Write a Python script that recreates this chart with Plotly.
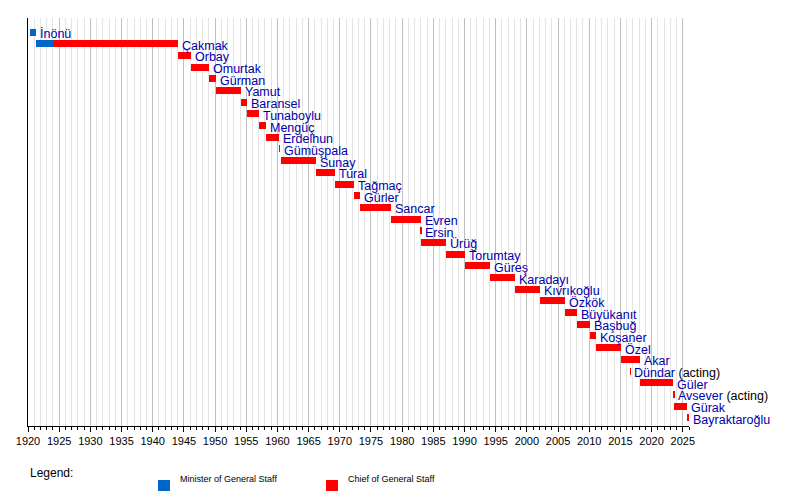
import plotly.graph_objects as go

# Chiefs of the General Staff of Turkey - timeline data
names = ["İnönü", "Çakmak", "Orbay", "Omurtak", "Gürman", "Yamut", "Baransel",
         "Tunaboylu", "Mengüç", "Erdelhun", "Gümüşpala", "Sunay", "Tural",
         "Tağmaç", "Gürler", "Sancar", "Evren", "Ersin", "Ürüğ", "Torumtay",
         "Güreş", "Karadayı", "Kıvrıkoğlu", "Özkök", "Büyükanıt", "Başbuğ",
         "Koşaner", "Özel", "Akar", "Dündar", "Güler", "Avsever", "Gürak",
         "Bayraktaroğlu"]
acting = ["Dündar", "Avsever"]

# minister of general staff terms
minister_names = ["İnönü", "Çakmak"]
minister_start = [1920.3, 1921.3]
minister_end = [1921.3, 1924.2]

# chief of general staff terms (start, end) per name; İnönü has none
chief_start = [None, 1924.2, 1944.0, 1946.1, 1949.1, 1950.1, 1954.1, 1955.1,
               1957.1, 1958.1, 1960.3, 1960.6, 1966.2, 1969.2, 1972.2, 1973.2,
               1978.2, 1983.0, 1983.1, 1987.1, 1990.1, 1994.1, 1998.1, 2002.1,
               2006.1, 2008.1, 2010.1, 2011.1, 2015.1, 2016.54, 2018.2, 2023.5,
               2023.6, 2025.6]
chief_end = [None, 1944.0, 1946.1, 1949.1, 1950.1, 1954.1, 1955.1, 1957.1,
             1958.1, 1960.3, 1960.35, 1966.2, 1969.2, 1972.2, 1973.2, 1978.2,
             1983.0, 1983.1, 1987.1, 1990.1, 1994.1, 1998.1, 2002.1, 2006.1,
             2008.1, 2010.1, 2011.1, 2015.1, 2018.2, 2016.6, 2023.5, 2023.6,
             2025.6, 2026.0]

blue = "#0066cc"
red = "#ff0000"
rows = {n: i for i, n in enumerate(names)}

W, H = 800, 498
ml, mr, mt, mb = 20, 119, 10, 80
pw, ph = W - ml - mr, H - mt - mb

def px2paper(x, y):
    return (x - ml) / pw, (H - mb - y) / ph

fig = go.Figure()

# Minister of General Staff bars
fig.add_trace(go.Bar(
    y=[rows[n] for n in minister_names],
    x=[e - s for s, e in zip(minister_start, minister_end)],
    base=minister_start,
    orientation="h", width=0.6, marker=dict(color=blue, line_width=0),
    showlegend=False, hoverinfo="skip"
))

# Chief of General Staff bars
cy, cx, cb = [], [], []
for i, (s, e) in enumerate(zip(chief_start, chief_end)):
    if s is None:
        continue
    cy.append(i)
    cx.append(e - s)
    cb.append(s)
fig.add_trace(go.Bar(
    y=cy, x=cx, base=cb, orientation="h", width=0.6,
    marker=dict(color=red, line_width=0), showlegend=False, hoverinfo="skip"
))

# Name labels right of each bar
for i, n in enumerate(names):
    end = chief_end[i] if chief_end[i] is not None else minister_end[minister_names.index(n)]
    txt = n
    if n in acting:
        txt = n + " <span style='color:#000000'>(acting)</span>"
    fig.add_annotation(x=end, y=i, text=txt, xanchor="left", yanchor="middle",
                       xshift=2, yshift=-2, showarrow=False,
                       font=dict(color="#0000aa", size=12.5))

# Legend at the bottom
lx, ly = px2paper(20, 474)
fig.add_annotation(x=lx, y=ly, xref="paper", yref="paper", text="Legend:",
                   xanchor="left", showarrow=False, font=dict(size=12))
legend_items = [("Minister of General Staff", blue, 150), ("Chief of General Staff", red, 318)]
for label, col, px in legend_items:
    ax, ay = px2paper(px + 20, 478)
    fig.add_annotation(x=ax, y=ay, text=label, showarrow=False, xanchor="left",
                       xref="paper", yref="paper", font=dict(size=9, color="#000000"))
    x0, y0 = px2paper(px, 472)
    x1, y1 = px2paper(px + 12, 483)
    fig.add_shape(type="rect", xref="paper", yref="paper", x0=x0, x1=x1, y0=y1, y1=y0,
                  fillcolor=col, line_width=0)

fig.update_layout(
    width=W, height=H,
    margin=dict(l=ml, r=mr, t=mt, b=mb, autoexpand=False),
    plot_bgcolor="white", paper_bgcolor="white",
    font=dict(family="Liberation Sans, Arial, sans-serif", size=11, color="#000000"),
    barmode="overlay", bargap=0,
    xaxis=dict(range=[1920, 2026], tickmode="linear", tick0=1920, dtick=5,
               showgrid=True, gridcolor="#c0c0c0", gridwidth=1,
               minor=dict(dtick=1, showgrid=True, gridcolor="#e4e4e4", ticks="outside",
                          ticklen=3, tickcolor="black"),
               ticks="outside", ticklen=5, tickcolor="black",
               showline=True, linecolor="black", zeroline=False,
               tickfont=dict(size=11)),
    yaxis=dict(range=[33.7, -1.2], showticklabels=False, showgrid=False,
               zeroline=False, showline=True, linecolor="black"),
)

fig.write_html("out.html")
